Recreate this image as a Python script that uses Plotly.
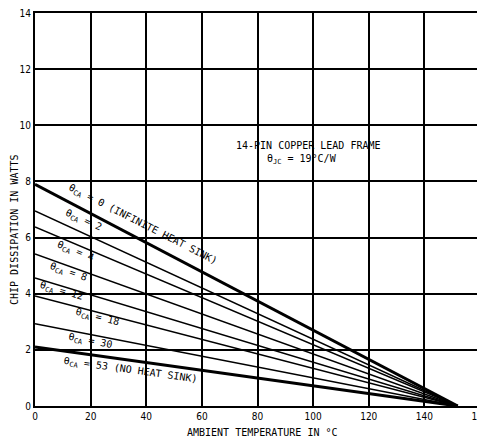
import plotly.graph_objects as go

# Data
theta_ca = [0, 2, 4, 8, 12, 18, 30, 53]
p_at_zero = [7.9, 6.95, 6.38, 5.42, 4.56, 3.92, 2.93, 2.1]   # watts at 0 degC ambient
t_zero = 152   # ambient temperature where dissipation reaches zero
line_widths = [3, 1.5, 1.5, 1.5, 1.5, 1.5, 1.5, 3]

label_texts = [
    "θ<sub>CA</sub> = 0 (INFINITE HEAT SINK)",
    "θ<sub>CA</sub> = 2",
    "θ<sub>CA</sub> = 4",
    "θ<sub>CA</sub> = 8",
    "θ<sub>CA</sub> = 12",
    "θ<sub>CA</sub> = 18",
    "θ<sub>CA</sub> = 30",
    "θ<sub>CA</sub> = 53 (NO HEAT SINK)",
]
label_x = [38.5, 17.3, 14.4, 12.2, 9.7, 22.3, 20.1, 34.2]
label_y = [6.45, 6.6, 5.5, 4.75, 4.08, 3.15, 2.3, 1.27]
label_angle = [27, 24, 22, 19, 16, 14, 11, 8]

x_ticks = [0, 20, 40, 60, 80, 100, 120, 140, 160]
y_ticks = [0, 2, 4, 6, 8, 10, 12, 14]

MONO = "DejaVu Sans Mono, Liberation Mono, monospace"
TICKFONT = "DejaVu Sans Condensed, Liberation Sans Narrow, sans-serif"
TXT = dict(family=MONO, size=10, color="black")

fig = go.Figure()
for th, p0, w in zip(theta_ca, p_at_zero, line_widths):
    fig.add_trace(go.Scatter(
        x=[0, t_zero], y=[p0, 0], mode="lines",
        line=dict(color="black", width=w),
        name=f"θCA = {th}", showlegend=False, hoverinfo="skip"))

annotations = []
for txt, x, y, a in zip(label_texts, label_x, label_y, label_angle):
    annotations.append(dict(x=x, y=y, xref="x", yref="y", text=txt,
                            showarrow=False, textangle=a,
                            xanchor="center", yanchor="middle", font=TXT))

def px(xp):
    return (xp - 35) / 445

def py(yp):
    return (406 - yp) / 393

annotations.append(dict(x=px(308), y=py(145), xref="paper", yref="paper",
                        text="14-PIN COPPER LEAD FRAME", showarrow=False,
                        xanchor="center", yanchor="middle", font=TXT))
annotations.append(dict(x=px(302), y=py(159), xref="paper", yref="paper",
                        text="θ<sub>JC</sub> = 19°C/W", showarrow=False,
                        xanchor="center", yanchor="middle", font=TXT))
annotations.append(dict(x=px(262), y=py(432), xref="paper", yref="paper",
                        text="AMBIENT TEMPERATURE IN °C", showarrow=False,
                        xanchor="center", yanchor="middle", font=TXT))
annotations.append(dict(x=px(14), y=py(230), xref="paper", yref="paper",
                        text="CHIP DISSIPATION IN WATTS", showarrow=False, textangle=-90,
                        xanchor="center", yanchor="middle", font=TXT))

# the page body adds an 8px offset, so the figure is sized to fit inside it
fig.update_layout(
    width=477, height=435,
    margin=dict(l=27, r=5, t=5, b=37, autoexpand=False),
    paper_bgcolor="white", plot_bgcolor="white",
    annotations=annotations,
    xaxis=dict(range=[0, 160], tickvals=x_ticks, ticktext=[str(v) for v in x_ticks],
               showgrid=True, gridcolor="black", gridwidth=1.5, automargin=False,
               ticklabeloverflow="allow",
               showline=True, linecolor="black", linewidth=2, mirror=True,
               zeroline=False, ticks="", tickfont=dict(family=TICKFONT, size=10, color="black")),
    yaxis=dict(range=[0, 14], tickvals=y_ticks, ticktext=[str(v) for v in y_ticks],
               showgrid=True, gridcolor="black", gridwidth=1.5, automargin=False,
               ticklabeloverflow="allow",
               showline=True, linecolor="black", linewidth=2, mirror=True,
               zeroline=False, ticks="", tickfont=dict(family=TICKFONT, size=10, color="black")),
)

fig.write_html("out.html")
